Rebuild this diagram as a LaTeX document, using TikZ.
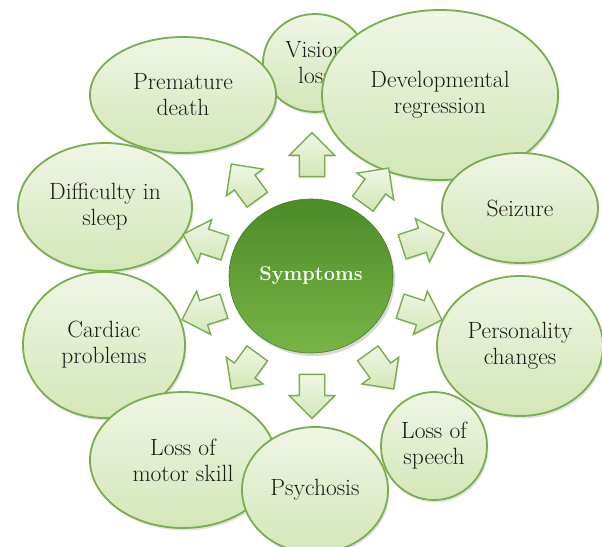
\documentclass[tikz,border=0pt]{standalone}
\usepackage{fontspec}
\usetikzlibrary{shapes.geometric,shapes.arrows,shadows,calc}
\definecolor{bord}{HTML}{7AAE4C}
\definecolor{ftop}{HTML}{EFF6E5}
\definecolor{fbot}{HTML}{D3E7B8}
\definecolor{ctop}{HTML}{4C8C28}
\definecolor{cbot}{HTML}{78B546}
\definecolor{txt}{HTML}{1A1A1A}
\tikzset{
  bubble/.style={ellipse, draw=bord, line width=1.8pt, top color=ftop, bottom color=fbot,
    inner sep=0pt, align=center, text=txt, font=\fontsize{23.5}{26}\selectfont,
    drop shadow={opacity=0.22, shadow xshift=1.5pt, shadow yshift=-2.5pt}},
  barrow/.style={single arrow, draw=bord, line width=1.4pt, top color=ftop, bottom color=fbot,
    minimum height=44pt, single arrow head extend=10pt, inner sep=0pt,
    drop shadow={opacity=0.18, shadow xshift=1pt, shadow yshift=-1.5pt}},
  hub/.style={ellipse, top color=cbot, bottom color=ctop, shading angle=180, draw=ctop!90!black, line width=0.6pt,
    minimum width=164pt, minimum height=154pt, inner sep=0pt, text=white,
    font=\fontsize{20}{24}\selectfont\bfseries,
    drop shadow={opacity=0.3, shadow xshift=2pt, shadow yshift=-3pt}}
}
\begin{document}
\begin{tikzpicture}[x=1pt,y=-1pt]
\useasboundingbox[fill=white] (0,0) rectangle (602,546);
% outer bubbles, back to front
\node[bubble, minimum width=104pt, minimum height=98pt] (vis) at (315,63) {Vision\\loss};
\node[bubble, minimum width=186pt, minimum height=116pt] (pre) at (183,95) {Premature\\death};
\node[bubble, minimum width=236pt, minimum height=170pt] (dev) at (440,95) {Developmental\\regression};
\node[bubble, minimum width=156pt, minimum height=110pt] (sei) at (520,208) {Seizure};
\node[bubble, minimum width=166pt, minimum height=140pt] (per) at (520,346) {Personality\\changes};
\node[bubble, minimum width=174pt, minimum height=128pt] (dif) at (105,207) {Difficulty in\\sleep};
\node[bubble, minimum width=162pt, minimum height=146pt] (car) at (104,345) {Cardiac\\problems};
\node[bubble, minimum width=186pt, minimum height=136pt] (mot) at (183,460) {Loss of\\motor skill};
\node[bubble, minimum width=146pt, minimum height=126pt] (psy) at (315,490) {Psychosis};
\node[bubble, minimum width=106pt, minimum height=108pt] (spe) at (434,446) {Loss of\\speech};
% centre
\node[hub] (sym) at (311,276) {Symptoms};
% arrows
\foreach \a/\x/\y [count=\i] in {90/312/161, 54/372/191, 18/417/242, -18/415/311, -54/377/366,
    -90/312/390, -126/248/366, -162/209/311, 162/210/243, 126/248/187}
  \node[barrow, rotate=\a] (arr\i) at (\x,\y) {\rule{0pt}{24pt}};
\end{tikzpicture}
\end{document}
